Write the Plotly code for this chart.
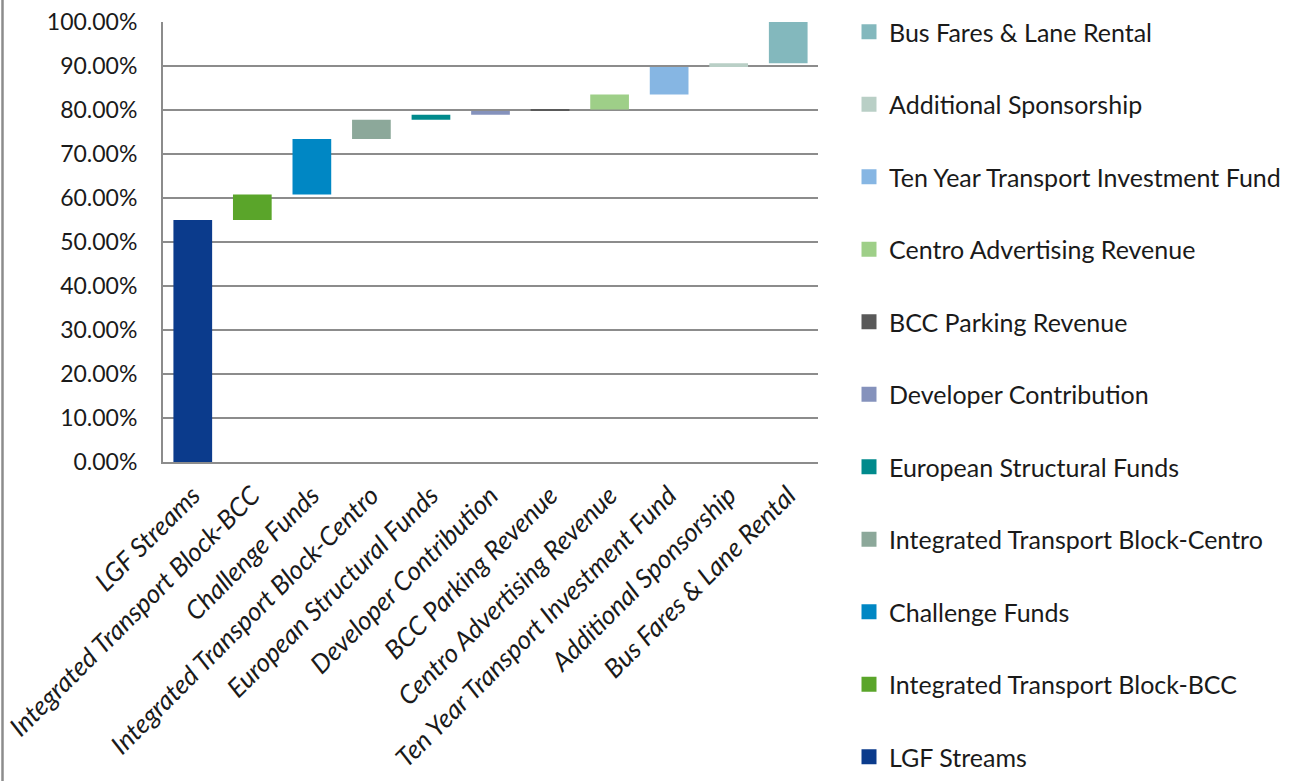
import plotly.graph_objects as go

categories = [
    "LGF Streams",
    "Integrated Transport Block-BCC",
    "Challenge Funds",
    "Integrated Transport Block-Centro",
    "European Structural Funds",
    "Developer Contribution",
    "BCC Parking Revenue",
    "Centro Advertising Revenue",
    "Ten Year Transport Investment Fund",
    "Additional Sponsorship",
    "Bus Fares & Lane Rental",
]
increments = [55.0, 5.8, 12.6, 4.4, 1.1, 0.9, 0.3, 3.4, 6.3, 0.8, 9.4]
colors = ["#0B3B8C", "#5AA52A", "#0087C4", "#8CA89A", "#008A8C", "#8592BC",
          "#595959", "#9ECF88", "#86B6E3", "#B9CFC6", "#83B8BD"]
tick_vals = [0, 10, 20, 30, 40, 50, 60, 70, 80, 90, 100]

FONT = "Lato"
W, H = 1300, 781
PL, PR, PT, PB = 163, 818, 22, 462  # plot area in pixels

fig = go.Figure()
start = 0.0
for cat, inc, col in zip(categories, increments, colors):
    fig.add_trace(go.Bar(
        x=[cat], y=[inc], base=[start], name=cat, showlegend=False,
        marker=dict(color=col, line=dict(width=0)), width=0.65,
    ))
    start += inc

# legend entries (top: last category)
for cat, col in reversed(list(zip(categories, colors))):
    fig.add_trace(go.Scatter(
        x=[None], y=[None], mode="markers", name=cat, legendgroup=cat,
        marker=dict(symbol="square", size=15, color=col),
    ))

grid = "#8C8C8C"
fig.update_layout(
    width=W, height=H,
    barmode="overlay",
    paper_bgcolor="white", plot_bgcolor="white",
    margin=dict(l=PL, r=W - PR, t=0, b=0, autoexpand=False),
    font=dict(family=FONT, color="#1A1A1A"),
    showlegend=True,
    legend=dict(
        xref="container", yref="container",
        x=849 / W, y=1 - 9 / H, xanchor="left", yanchor="top",
        traceorder="grouped", tracegroupgap=37,
        font=dict(family=FONT, size=25, color="#1A1A1A"),
        itemsizing="trace", itemwidth=30,
        maxheight=779,
    ),
    xaxis=dict(
        categoryorder="array", categoryarray=categories,
        range=[-0.5, len(categories) - 0.5],
        tickangle=-45, showgrid=False,
        showline=True, linecolor=grid, linewidth=2,
        ticks="outside", ticklen=6, tickcolor="rgba(0,0,0,0)",
        tickfont=dict(family=FONT, size=26, style="italic", color="#1A1A1A"),
    ),
    yaxis=dict(
        domain=[(H - PB) / H, (H - PT) / H],
        range=[0, 100], tickvals=tick_vals,
        ticktext=[f"{v:.2f}%" for v in tick_vals],
        showgrid=True, gridcolor=grid, gridwidth=2,
        showline=True, linecolor=grid, linewidth=2,
        zeroline=False,
        ticks="outside", ticklen=19, tickcolor="rgba(0,0,0,0)",
        tickfont=dict(family=FONT, size=23, color="#1A1A1A"),
    ),
    shapes=[dict(type="line", xref="paper", yref="paper",
                 x0=(2.5 - PL) / (PR - PL), x1=(2.5 - PL) / (PR - PL),
                 y0=0, y1=1, line=dict(color=grid, width=2.5))],
)

fig.write_html("out.html", config={"displayModeBar": False},
               post_script="document.body.style.margin='0';")
